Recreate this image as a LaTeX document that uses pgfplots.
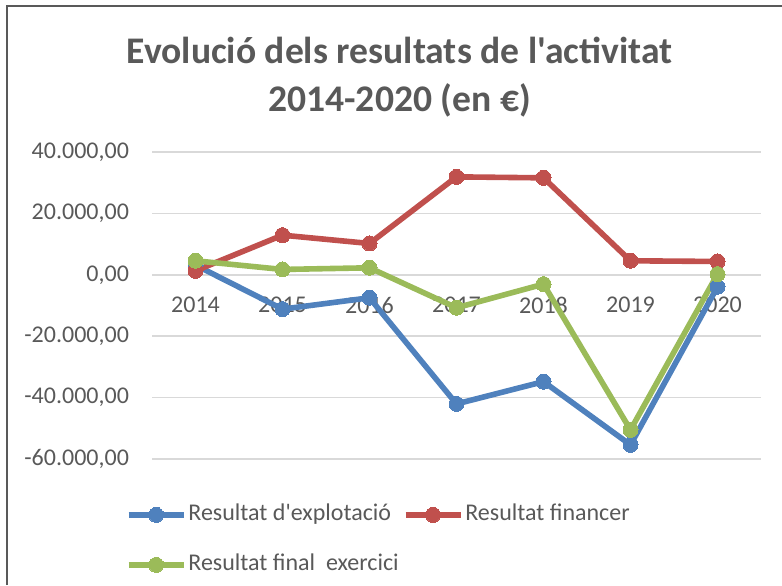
\documentclass[border=0pt]{standalone}
\usepackage{pgfplots}
\pgfplotsset{compat=1.18}
\usepackage{pgfplotstable}
\usepackage{fontspec}
\setmainfont{Carlito}[Ligatures=TeXOff]
\definecolor{cblue}{HTML}{4F81BD}
\definecolor{cred}{HTML}{C0504D}
\definecolor{cgreen}{HTML}{9BBB59}
\definecolor{ctext}{HTML}{595959}
\definecolor{cgrid}{HTML}{D9D9D9}
\pgfplotstableread{
x y
0 3150
1 -11180
2 -7490
3 -42060
4 -34800
5 -55390
6 -3900
}\explot
\pgfplotstableread{
x y
0 1300
1 12910
2 10200
3 31900
4 31580
5 4560
6 4340
}\financer
\pgfplotstableread{
x y
0 4560
1 1740
2 2280
3 -10740
4 -3040
5 -50510
6 220
}\final
\begin{document}
\begin{tikzpicture}
\useasboundingbox (0,0) rectangle (391pt,292.5pt);
\draw[ctext, line width=1pt] (3.5pt,0pt) -- (3.5pt,289.5pt) -- (391pt,289.5pt);
\node[font=\fontsize{18.8}{22}\selectfont\bfseries, text=ctext] at (199.75pt,267.5pt) {Evolució dels resultats de l'activitat};
\node[font=\fontsize{18.8}{22}\selectfont\bfseries, text=ctext] at (199.75pt,242.5pt) {2014-2020 (en €)};
\begin{axis}[
  at={(76pt,63pt)}, anchor=south west,
  scale only axis, width=304.5pt, height=153.5pt,
  xmin=-0.5, xmax=6.5, ymin=-60000, ymax=40000,
  scaled y ticks=false,
  axis x line=middle, axis y line=left,
  x axis line style={-, draw=cgrid, line width=0.75pt},
  y axis line style={draw=none},
  hide obscured x ticks=false, hide obscured y ticks=false,
  major tick length=0pt,
  xtick={0,...,6},
  xticklabels={2014,2015,2016,2017,2018,2019,2020},
  ytick={-60000,-40000,-20000,0,20000,40000},
  yticklabels={{-60.000,00},{-40.000,00},{-20.000,00},{0,00},{20.000,00},{40.000,00}},
  ymajorgrids, grid style={cgrid, line width=0.75pt},
  tick label style={font=\fontsize{12}{14}\selectfont, text=ctext},
  xticklabel style={anchor=north, yshift=-7.75pt},
  yticklabel style={anchor=east, xshift=-8pt},
  clip=false,
  legend columns=2,
  legend cell align=left,
  legend style={draw=none, fill=none, at={(-0.043,-0.143)}, anchor=north west,
    inner sep=0pt, outer sep=0pt,
    font=\fontsize{12}{14}\selectfont, text=ctext,
    nodes={inner xsep=1pt, inner ysep=0pt, text height=9pt, text depth=3pt},
    row sep=13pt,
    /tikz/every odd column/.append style={column sep=0pt},
    /tikz/every even column/.append style={column sep=1pt}},
  legend image code/.code={\draw[mark repeat=2,mark phase=2,#1] plot coordinates {(0pt,0pt) (13.75pt,0pt) (27.5pt,0pt)};},
  every axis plot/.append style={line width=2.8pt, mark=*, mark size=3.75pt},
]
\addplot[cblue, mark options={fill=cblue, draw=cblue, line width=0pt}] table {\explot};
\addlegendentry{Resultat d'explotació}
\addplot[cred, mark options={fill=cred, draw=cred, line width=0pt}] table {\financer};
\addlegendentry{Resultat financer}
\addplot[cgreen, mark options={fill=cgreen, draw=cgreen, line width=0pt}] table {\final};
\addlegendentry{Resultat final\ \ exercici}
\end{axis}
\end{tikzpicture}
\end{document}
